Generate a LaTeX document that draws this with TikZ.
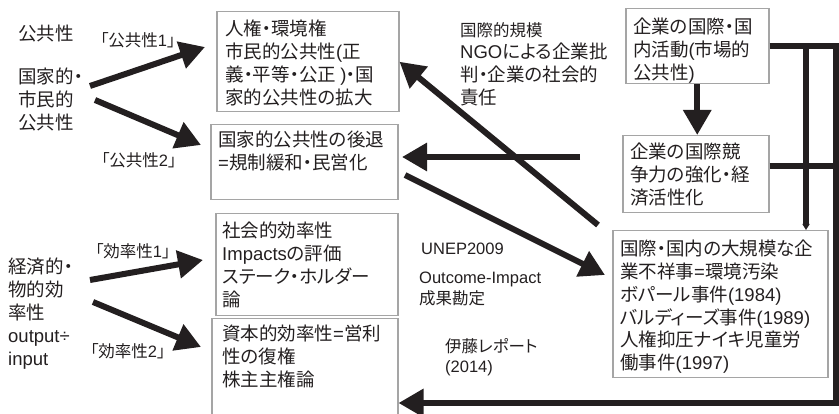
\documentclass[tikz,border=0pt]{standalone}
\usepackage{fontspec}
\setmainfont{Noto Sans CJK JP}[RawFeature=+palt]
\newfontfamily\lat{Liberation Sans}
\usetikzlibrary{arrows.meta}
\definecolor{boxgray}{RGB}{165,165,165}
\definecolor{ink}{RGB}{35,31,32}
\begin{document}
\begin{tikzpicture}[x=1pt,y=-1pt,
  box/.style={draw=boxgray, line width=1.5pt, inner sep=0pt, anchor=north west},
  txt/.style={anchor=north west, inner sep=0pt, align=left, text=ink, font=\fontsize{18.5}{22.8}\selectfont},
  mid/.style={anchor=north west, inner sep=0pt, align=left, text=ink, font=\fontsize{16.5}{20.5}\selectfont},
  lbl/.style={anchor=north west, inner sep=0pt, text=ink, font=\fontsize{16.5}{20}\selectfont},
  arr/.style={draw=ink, line width=6pt, -{Triangle[length=25pt,width=27pt]}},
  bar/.style={draw=ink, line width=6pt},
]
\useasboundingbox (0,0) rectangle (839,414);
% boxes
\node[box, minimum width=182pt, minimum height=100pt] (b1) at (216,11) {};
\node[box, minimum width=187pt, minimum height=75pt] (b2) at (210,124) {};
\node[box, minimum width=182pt, minimum height=102pt] (b3) at (215,213) {};
\node[box, minimum width=186pt, minimum height=110pt] (b4) at (211,318) {};
\node[box, minimum width=143pt, minimum height=75pt] (b5) at (625,8) {};
\node[box, minimum width=146pt, minimum height=77pt] (b6) at (622,135) {};
\node[box, minimum width=215pt, minimum height=147pt] (b7) at (612,230) {};
% box texts
\node[txt] (t1) at (225,20) {人権・環境権\\市民的公共性{\lat(}正\\義・平等・公正 {\lat)}・国\\家的公共性の拡大};
\node[txt] (t2) at (218,131) {国家的公共性の後退\\{\lat=}規制緩和・民営化};
\node[txt] (t3) at (222,222) {社会的効率性\\{\lat Impacts}の評価\\ステーク・ホルダー\\論};
\node[txt] (t4) at (222,325) {資本的効率性{\lat=}営利\\性の復権\\株主主権論};
\node[txt] (t5) at (633,18) {企業の国際・国\\内活動{\lat(}市場的\\公共性{\lat)}};
\node[txt] (t6) at (630,143) {企業の国際競\\争力の強化・経\\済活性化};
\node[txt] (t7) at (620,240) {国際・国内の大規模な企\\業不祥事{\lat=}環境汚染\\ボパール事件{\lat(1984)}\\バルディーズ事件{\lat(1989)}\\人権抑圧ナイキ児童労\\働事件{\lat(1997)}};
% free texts
\node[txt] (k1) at (18,25) {公共性};
\node[lbl] (k2) at (100,32) {「公共性{\lat 1}」};
\node[txt] (k3) at (18,68) {国家的・\\市民的\\公共性};
\node[lbl] (k4) at (101,152) {「公共性{\lat 2}」};
\node[lbl] (k5) at (95,243) {「効率性{\lat 1}」};
\node[txt] (k6) at (8,258) {経済的・\\物的効\\率性\\{\lat output÷}\\{\lat input}};
\node[lbl] (k7) at (90,343) {「効率性{\lat 2}」};
\node[lbl] (m1) at (460,22) {国際的規模};
\node[txt] (m2) at (460,43) {{\lat NGO}による企業批\\判・企業の社会的\\責任};
\node[mid] (m3) at (421,243) {{\lat UNEP2009}};
\node[mid] (m4) at (419,272) {{\lat Outcome-Impact}\\成果勘定};
\node[mid] (m5) at (445,338) {伊藤レポート\\{\lat (2014)}};
% coordinates
\coordinate (s1) at (90,86);
\coordinate (e1) at (205,47);
\coordinate (s2) at (95,100);
\coordinate (e2) at (201,145);
\coordinate (s3) at (90,280);
\coordinate (e3) at (203,260);
\coordinate (s4) at (93,302);
\coordinate (e4) at (201,347);
\coordinate (d1) at (598,225);
\coordinate (h1) at (580,157);
\coordinate (h2) at (402,157);
\coordinate (g1) at (405,175);
\coordinate (g2) at (605,275);
\coordinate (rt) at (836,403);
\coordinate (v1) at (806,45.5);
% arrows
\draw[arr] (s1) -- (e1);
\draw[arr] (s2) -- (e2);
\draw[arr] (s3) -- (e3);
\draw[arr] (s4) -- (e4);
\draw[arr] (d1) -- (b1.east);
\draw[arr] (h1) -- (h2);
\draw[arr] (g1) -- (g2);
\draw[arr] (b5.south) -- (b5.south |- b6.north);
\draw[arr, line join=miter] (b5.east) -| (rt) -- (b4.east |- rt);
\draw[bar] ([yshift=8.5pt]b6.east) -- ([yshift=8.5pt]b6.east -| rt);
\draw[draw=ink, line width=6pt, -{Triangle[length=6pt,width=7pt]}] (v1) -- (v1 |- b7.north);
\end{tikzpicture}
\end{document}
